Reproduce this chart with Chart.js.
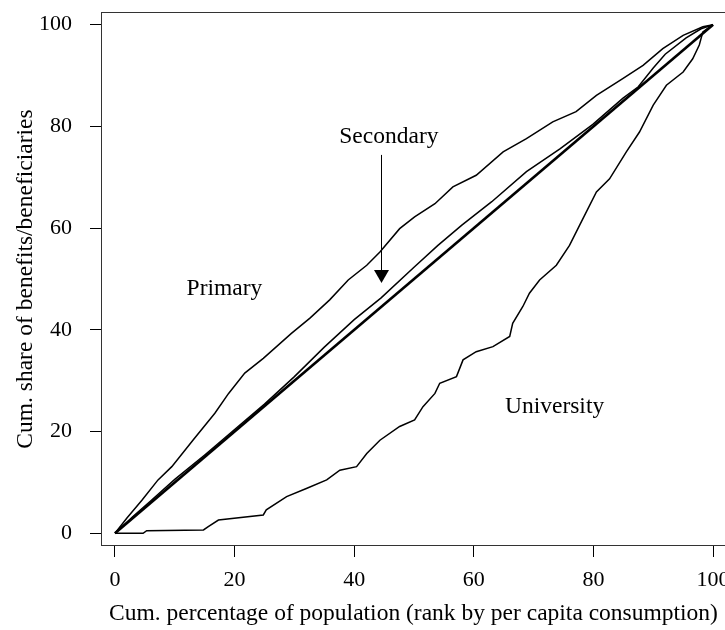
<!DOCTYPE html>
<html>
<head>
<meta charset="utf-8">
<script src="https://cdn.jsdelivr.net/npm/chart.js@4.4.1/dist/chart.umd.min.js"></script>
<style>
  html, body { margin: 0; padding: 0; background: #fff; }
  canvas { display: block; }
</style>
</head>
<body>
<canvas id="lorenz" width="725" height="630"></canvas>
<script>
// Ticks
const xTicks = [0, 20, 40, 60, 80, 100];
const yTicks = [0, 20, 40, 60, 80, 100];

// Ligne d'égalité
const equalX = [0, 100];
const equalY = [0, 100];

// Primaire
const primaryX = [0, 2, 4.5, 7.2, 9.5, 13.1, 16.7, 19, 21.7, 24.8, 29.5, 32.6, 35.9, 39, 42.1, 44.3, 47.6, 50.1, 53.5, 56.5, 60.4, 64.9, 68.8, 73.2, 77.1, 80.5, 84.9, 88.3, 91.6, 95, 98.3, 100];
const primaryY = [0, 3, 6.5, 10.5, 13.1, 18.4, 23.6, 27.5, 31.5, 34.4, 39.3, 42.3, 45.9, 49.8, 52.7, 55.3, 59.9, 62.2, 64.8, 68.1, 70.4, 75, 77.6, 80.9, 82.9, 86.1, 89.4, 92, 95.3, 97.9, 99.6, 100];

// Secondaire
const secondaryX = [0, 3, 6, 10, 15, 20, 25, 30, 35, 40, 44.5, 50, 54, 58, 63, 68.8, 74.4, 79.9, 84.9, 87.5, 90, 92, 95.5, 98, 100];
const secondaryY = [0, 3.3, 6.4, 10.6, 15.4, 20.4, 25.4, 30.8, 36.6, 42, 46.3, 52.3, 56.6, 60.6, 65.2, 71.1, 75.6, 80.4, 85.5, 87.8, 91.5, 94.2, 97.4, 99.2, 100];

// Université
const universityX = [0, 4.7, 5.3, 14.8, 15.6, 17.3, 24.8, 25.3, 28.7, 32, 35.4, 37.6, 40.4, 42.1, 44.3, 47.6, 50.1, 51.5, 53.5, 54.3, 57.1, 58.2, 60.4, 63.2, 66, 66.5, 68.2, 69.3, 71, 73.8, 76, 77.7, 80.5, 82.7, 85.5, 87.7, 90, 92.2, 95, 96.6, 97.7, 98.3, 100];
const universityY = [0, 0, 0.5, 0.65, 1.3, 2.6, 3.6, 4.6, 7.2, 8.8, 10.5, 12.4, 13.1, 15.7, 18.3, 21, 22.3, 24.9, 27.5, 29.5, 30.8, 34.1, 35.7, 36.7, 38.7, 41.3, 44.6, 47.2, 49.8, 52.7, 56.6, 60.6, 67.1, 69.7, 75, 78.9, 84.2, 88.1, 90.7, 93.3, 96, 98.6, 100];

const FONT = "'Liberation Serif', 'Times New Roman', serif";
Chart.defaults.font.family = FONT;
Chart.defaults.color = '#000';

const toPoints = (xs, ys) => xs.map((x, i) => ({ x, y: ys[i] }));

function curve(xs, ys, width) {
  return {
    data: toPoints(xs, ys),
    showLine: true,
    borderColor: '#000',
    borderWidth: width,
    pointRadius: 0,
    tension: 0,
    fill: false,
  };
}

/* Cadre, étiquettes et flèche */
const annotate = {
  id: 'annotate',
  afterDraw(chart) {
    const { ctx, chartArea: a, scales: { x, y } } = chart;
    ctx.save();
    ctx.strokeStyle = '#333';
    ctx.lineWidth = 1;
    ctx.strokeRect(a.left - 0.5, a.top + 0.5, a.right - a.left + 20, a.bottom - a.top - 1);

    ctx.fillStyle = '#000';
    ctx.font = '23.5px ' + FONT;
    ctx.textAlign = 'center';
    ctx.textBaseline = 'alphabetic';
    ctx.fillText('Secondary', x.getPixelForValue(45.8), y.getPixelForValue(76.8));
    ctx.fillText('Primary', x.getPixelForValue(18.3), y.getPixelForValue(46.9));
    ctx.fillText('University', x.getPixelForValue(73.5), y.getPixelForValue(23.7));

    // flèche vers Secondary
    const ax = Math.round(x.getPixelForValue(44.4)) + 0.5;
    const top = y.getPixelForValue(74.4);
    const tip = y.getPixelForValue(49.2);
    ctx.strokeStyle = '#000';
    ctx.beginPath();
    ctx.moveTo(ax, top);
    ctx.lineTo(ax, tip - 12);
    ctx.stroke();
    ctx.beginPath();
    ctx.moveTo(ax - 7.5, tip - 13);
    ctx.lineTo(ax + 7.5, tip - 13);
    ctx.lineTo(ax, tip);
    ctx.closePath();
    ctx.fill();
    ctx.restore();
  },
};

new Chart(document.getElementById('lorenz'), {
  type: 'scatter',
  data: {
    datasets: [
      curve(equalX, equalY, 2.6),
      curve(primaryX, primaryY, 1.5),
      curve(secondaryX, secondaryY, 1.5),
      curve(universityX, universityY, 1.5),
    ],
  },
  options: {
    responsive: false,
    animation: false,
    layout: { padding: { top: 12, right: 0, bottom: 0, left: 0 } },
    plugins: {
      legend: { display: false },
      tooltip: { enabled: false },
    },
    scales: {
      x: {
        type: 'linear',
        min: -2.17,
        max: 102.0,
        afterFit: (s) => { s.height = 84; s.paddingLeft = 0; s.paddingRight = 0; },
        afterBuildTicks: (s) => { s.ticks = xTicks.map((v) => ({ value: v })); },
        grid: { drawOnChartArea: false, tickLength: 11, tickColor: '#000', tickWidth: 1 },
        border: { display: false },
        ticks: { font: { size: 22 }, padding: 10, maxRotation: 0 },
        title: {
          display: true,
          text: 'Cum. percentage of population (rank by per capita consumption)',
          font: { size: 23.5 },
          padding: { top: 0, bottom: 2 },
        },
      },
      y: {
        type: 'linear',
        min: -2.5,
        max: 102.5,
        afterFit: (s) => { s.width = 102; s.paddingTop = 0; s.paddingBottom = 0; },
        afterBuildTicks: (s) => { s.ticks = yTicks.map((v) => ({ value: v })); },
        grid: { drawOnChartArea: false, tickLength: 12, tickColor: '#000', tickWidth: 1 },
        border: { display: false },
        ticks: { font: { size: 22 }, padding: 18 },
        title: {
          display: true,
          text: 'Cum. share of benefits/beneficiaries',
          font: { size: 23.5 },
          padding: { top: 12, bottom: 0 },
        },
      },
    },
  },
  plugins: [annotate],
});
</script>
</body>
</html>
